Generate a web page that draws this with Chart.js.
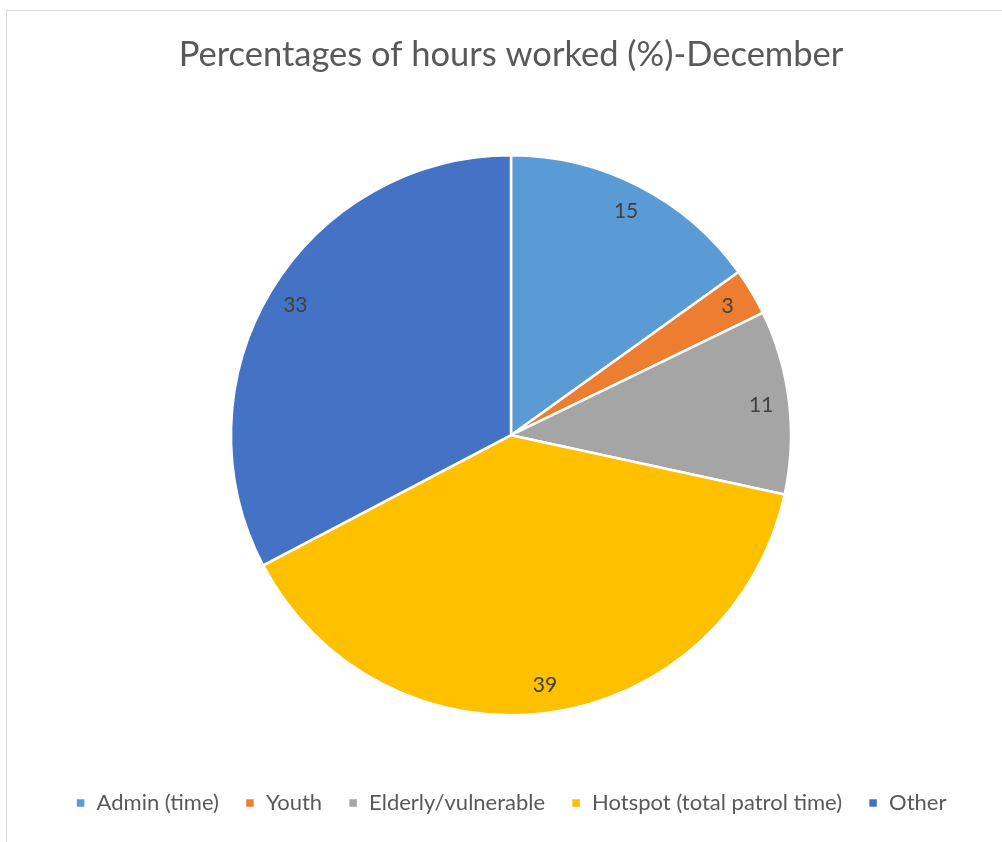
<!DOCTYPE html>
<html>
<head>
<meta charset="utf-8">
<script src="https://cdn.jsdelivr.net/npm/chart.js@4.4.0/dist/chart.umd.min.js"></script>
<style>
html, body { margin: 0; padding: 0; background: #fff; overflow: hidden; }
#wrap { position: relative; width: 1002px; height: 842px; }
#frame { position: absolute; left: 6px; top: 10px; width: 1100px; height: 900px; border: 1.5px solid #d9d9d9; box-sizing: border-box; }
#grafico { position: absolute; left: 0; top: 0; }
</style>
</head>
<body>
<div id="wrap">
<div id="frame"></div>
<canvas id="grafico" width="1002" height="842"></canvas>
</div>
<script>
// dados
const categorias = ["Admin (time)", "Youth", "Elderly/vulnerable", "Hotspot (total patrol time)", "Other"];
const valores = [15.1, 2.7, 10.6, 38.9, 32.7];
const rotulos = ["15", "3", "11", "39", "33"];
const cores = ["#5B9BD5", "#ED7D31", "#A5A5A5", "#FFC000", "#4472C4"];

// rótulos dentro das fatias
const rotulosPlugin = {
    id: "rotulos",
    afterDatasetsDraw(chart){
        const ctx = chart.ctx;
        const meta = chart.getDatasetMeta(0);
        ctx.save();
        ctx.font = "21px Lato";
        ctx.fillStyle = "#404040";
        ctx.textAlign = "center";
        ctx.textBaseline = "middle";
        meta.data.forEach((arc, i) => {
            const p = arc.getProps(["x", "y", "startAngle", "endAngle", "outerRadius"], true);
            const meio = (p.startAngle + p.endAngle) / 2;
            const r = p.outerRadius * 0.9;
            ctx.fillText(rotulos[i], p.x + Math.cos(meio) * r, p.y + Math.sin(meio) * r);
        });
        ctx.restore();
    }
};

new Chart(document.getElementById("grafico"), {
    type: "pie",
    data: {
        labels: categorias,
        datasets: [{
            data: valores,
            backgroundColor: cores,
            borderColor: "#ffffff",
            borderWidth: 2.5,
            radius: 280
        }]
    },
    options: {
        responsive: false,
        animation: false,
        layout: { padding: { left: 20, right: 0, top: 0, bottom: 18 } },
        plugins: {
            title: {
                display: true,
                text: "Percentages of hours worked (%)-December",
                color: "#595959",
                font: { family: "Lato", size: 34.5, weight: "normal" },
                padding: { top: 34, bottom: 29 }
            },
            legend: {
                position: "bottom",
                labels: {
                    color: "#595959",
                    font: { family: "Lato", size: 22 },
                    boxWidth: 10,
                    boxHeight: 10,
                    padding: 26
                }
            },
            tooltip: { enabled: false }
        }
    },
    plugins: [rotulosPlugin]
});
</script>
</body>
</html>
